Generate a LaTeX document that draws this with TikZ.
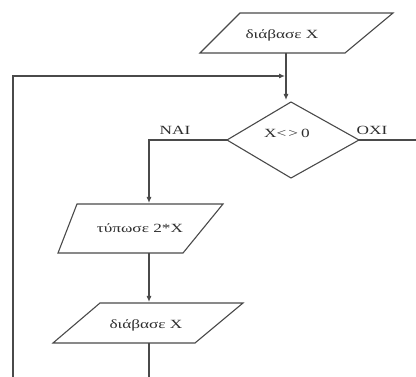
\documentclass[tikz,border=0pt]{standalone}
\usepackage{fontspec}
\setmainfont[FakeStretch=1.38]{Liberation Serif}
\usetikzlibrary{arrows.meta}
\definecolor{linegray}{HTML}{4A4A4A}
\definecolor{textgray}{HTML}{2E2E2E}
\tikzset{
  shapeline/.style={draw=linegray, line width=1.1pt, line join=miter},
  flow/.style={draw=linegray, line width=1.1pt, -{Latex[length=6pt,width=5pt]}},
  plainflow/.style={draw=linegray, line width=1.1pt},
  lbl/.style={text=textgray, inner sep=0pt, font=\fontsize{12.5}{14}\selectfont},
}
\begin{document}
\begin{tikzpicture}[x=1pt, y=-1pt]
\useasboundingbox (0,0) rectangle (416,377);
\fill[white] (0,0) rectangle (416,377);

% input: read X (top)
\coordinate (r1tl) at (240,13);  \coordinate (r1tr) at (393,13);
\coordinate (r1br) at (345,53);  \coordinate (r1bl) at (200,53);
\draw[shapeline] (r1tl) -- (r1tr) -- (r1br) -- (r1bl) -- cycle;
\node[lbl] (r1txt) at (282,35) {διάβασε X};
\coordinate (r1out) at (286,53);

% decision X <> 0
\coordinate (dtop) at (291,102); \coordinate (dbot) at (291,178);
\coordinate (dleft) at (227,140); \coordinate (dright) at (359,140);
\draw[shapeline] (dtop) -- (dright) -- (dbot) -- (dleft) -- cycle;
\node[lbl] (dtxt) at (287,133) {X<\hspace{2pt}>\hspace{3pt}0};
\coordinate (din) at (286,100);

% output: print 2*X
\coordinate (ptl) at (77,204);  \coordinate (ptr) at (223,204);
\coordinate (pbr) at (183,253); \coordinate (pbl) at (58,253);
\draw[shapeline] (ptl) -- (ptr) -- (pbr) -- (pbl) -- cycle;
\node[lbl] (ptxt) at (140,228) {τύπωσε 2*X};
\coordinate (pin) at (149,203);
\coordinate (pout) at (149,253);

% input: read X (inside loop)
\coordinate (r2tl) at (100,303); \coordinate (r2tr) at (243,303);
\coordinate (r2br) at (195,343); \coordinate (r2bl) at (53,343);
\draw[shapeline] (r2tl) -- (r2tr) -- (r2br) -- (r2bl) -- cycle;
\node[lbl] (r2txt) at (146,325) {διάβασε X};
\coordinate (r2in) at (149,302);
\coordinate (r2out) at (149,343);

% loop return path
\coordinate (loopend) at (149,377);
\coordinate (loopbot) at (13,377);
\coordinate (loopcorner) at (13,76);
\coordinate (loopin) at (285,76);

% exit on OXI
\coordinate (exitend) at (416,140);

% labels
\node[lbl] (yes) at (175,130) {ΝΑΙ};
\node[lbl] (no) at (372,130) {ΟΧΙ};

% connectors
\draw[flow] (r1out) -- (din);
\draw[flow] (dleft) -| (pin);
\draw[flow] (pout) -- (r2in);
\draw[plainflow] (r2out) -- (loopend);
\draw[flow] (loopbot) -- (loopcorner) -- (loopin);
\draw[plainflow] (dright) -- (exitend);
\end{tikzpicture}
\end{document}
